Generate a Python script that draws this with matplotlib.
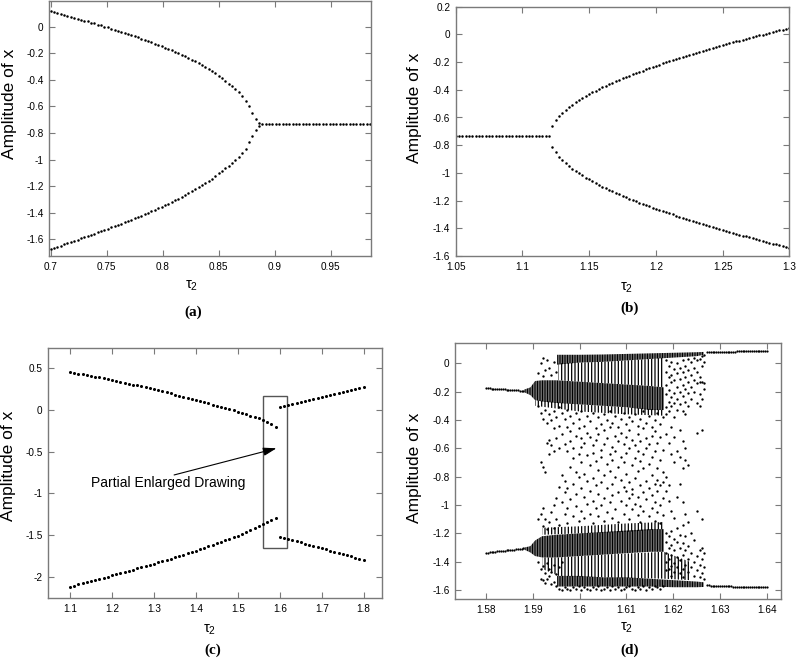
import numpy as np
import matplotlib.pyplot as plt
from matplotlib.patches import Rectangle

plt.rcParams['font.family'] = ['Liberation Sans', 'DejaVu Sans']
plt.rcParams['mathtext.fontset'] = 'custom'
plt.rcParams['mathtext.rm'] = 'Liberation Sans'
plt.rcParams['mathtext.default'] = 'regular'
plt.rcParams['axes.unicode_minus'] = False
plt.rcParams['hatch.linewidth'] = 0.9

W, H = 798, 663
GRAY = '#7a7a7a'

# ---- (a) tau2 = 0.700 .. 0.886 step 0.003, then the fixed point
a_tau0, a_step = 0.700, 0.003
a_upper = [0.116, 0.109, 0.102, 0.095, 0.088, 0.081, 0.074, 0.067, 0.060, 0.053,
           0.046, 0.039, 0.031, 0.024, 0.016, 0.009, 0.001, -0.006, -0.014, -0.022,
           -0.030, -0.038, -0.047, -0.055, -0.064, -0.072, -0.081, -0.090, -0.099, -0.109,
           -0.118, -0.128, -0.138, -0.147, -0.157, -0.168, -0.178, -0.189, -0.200, -0.211,
           -0.223, -0.235, -0.248, -0.261, -0.274, -0.288, -0.303, -0.319, -0.335, -0.352,
           -0.369, -0.388, -0.408, -0.429, -0.450, -0.470, -0.494, -0.521, -0.557, -0.597,
           -0.648, -0.694, -0.722]
a_lower = [-1.675, -1.666, -1.657, -1.648, -1.639, -1.630, -1.621, -1.612, -1.603, -1.594,
           -1.585, -1.576, -1.567, -1.558, -1.549, -1.539, -1.530, -1.521, -1.511, -1.502,
           -1.492, -1.482, -1.472, -1.462, -1.452, -1.443, -1.432, -1.422, -1.411, -1.400,
           -1.389, -1.378, -1.367, -1.356, -1.345, -1.333, -1.321, -1.308, -1.295, -1.282,
           -1.268, -1.254, -1.240, -1.225, -1.210, -1.194, -1.178, -1.161, -1.143, -1.125,
           -1.105, -1.086, -1.066, -1.046, -1.028, -1.005, -0.979, -0.950, -0.918, -0.870,
           -0.822, -0.777, -0.748]
a_fixed_range = (0.889, 0.985)
a_fixed_amp = -0.734

# ---- (b) fixed point for tau2 = 1.05 .. 1.12, branches from 1.1225 step 0.0025
b_fixed_range = (1.05, 1.12)
b_fixed_amp = -0.735
b_tau0, b_step = 1.1225, 0.0025
b_upper = [-0.662, -0.621, -0.591, -0.566, -0.545, -0.525, -0.507, -0.490, -0.475, -0.460,
           -0.445, -0.432, -0.419, -0.406, -0.394, -0.382, -0.371, -0.360, -0.349, -0.338,
           -0.328, -0.318, -0.308, -0.298, -0.289, -0.280, -0.270, -0.261, -0.253, -0.244,
           -0.235, -0.227, -0.219, -0.210, -0.202, -0.194, -0.186, -0.179, -0.171, -0.163,
           -0.156, -0.148, -0.141, -0.134, -0.126, -0.119, -0.112, -0.105, -0.098, -0.091,
           -0.084, -0.078, -0.071, -0.064, -0.058, -0.051, -0.045, -0.038, -0.032, -0.026,
           -0.019, -0.013, -0.007, -0.001, 0.005, 0.011, 0.017, 0.023, 0.029, 0.035,
           0.041, 0.047]
b_lower = [-0.811, -0.852, -0.883, -0.909, -0.931, -0.951, -0.970, -0.987, -1.003, -1.018,
           -1.034, -1.047, -1.060, -1.074, -1.086, -1.099, -1.110, -1.121, -1.133, -1.144,
           -1.154, -1.165, -1.175, -1.185, -1.194, -1.204, -1.214, -1.223, -1.231, -1.241,
           -1.250, -1.258, -1.266, -1.276, -1.284, -1.292, -1.300, -1.308, -1.316, -1.324,
           -1.331, -1.340, -1.347, -1.354, -1.362, -1.369, -1.377, -1.384, -1.391, -1.398,
           -1.406, -1.412, -1.419, -1.426, -1.432, -1.440, -1.446, -1.453, -1.459, -1.465,
           -1.472, -1.479, -1.485, -1.491, -1.497, -1.503, -1.510, -1.516, -1.522, -1.528,
           -1.534, -1.540]

# ---- (c) tau2 = 1.10 .. 1.59 and 1.60 .. 1.80, step 0.01
c_left_tau0, c_right_tau0, c_step = 1.10, 1.60, 0.01
c_left_upper = [0.455, 0.446, 0.437, 0.428, 0.419, 0.409, 0.400, 0.390, 0.380, 0.370,
                0.360, 0.349, 0.338, 0.327, 0.316, 0.305, 0.294, 0.283, 0.272, 0.261,
                0.250, 0.237, 0.224, 0.211, 0.198, 0.185, 0.172, 0.159, 0.146, 0.133,
                0.120, 0.106, 0.092, 0.078, 0.064, 0.050, 0.036, 0.022, 0.008, -0.006,
                -0.020, -0.035, -0.051, -0.067, -0.083, -0.100, -0.122, -0.146, -0.172, -0.205]
c_left_lower = [-2.120, -2.107, -2.093, -2.080, -2.066, -2.053, -2.039, -2.026, -2.012, -1.999,
                -1.985, -1.971, -1.957, -1.943, -1.929, -1.915, -1.901, -1.887, -1.873, -1.859,
                -1.845, -1.830, -1.814, -1.799, -1.783, -1.768, -1.752, -1.737, -1.721, -1.706,
                -1.690, -1.672, -1.654, -1.636, -1.618, -1.600, -1.582, -1.564, -1.546, -1.528,
                -1.510, -1.487, -1.463, -1.439, -1.415, -1.391, -1.367, -1.343, -1.319, -1.295]
c_right_upper = [0.040, 0.052, 0.064, 0.076, 0.088, 0.100, 0.112, 0.124, 0.136, 0.148, 0.160,
                 0.172, 0.184, 0.196, 0.208, 0.220, 0.232, 0.244, 0.256, 0.268, 0.280]
c_right_lower = [-1.520, -1.534, -1.548, -1.562, -1.576, -1.590, -1.604, -1.618, -1.632, -1.646,
                 -1.660, -1.674, -1.688, -1.702, -1.716, -1.730, -1.744, -1.758, -1.772, -1.786,
                 -1.800]
c_box = (1.561, -1.654, 1.618, 0.171)          # tau0, amp0, tau1, amp1
c_arrow_tail, c_arrow_head = (1.348, -0.78), (1.592, -0.46)
c_note_pos = (1.150, -0.877)

# ---- (d) periodic parts (step 0.0004), chaotic bands and scattered iterates
d_left_tau0, d_right_tau0, d_step = 1.5800, 1.6272, 0.0004
d_left_upper = [-0.175, -0.176, -0.177, -0.178, -0.179, -0.180, -0.181, -0.182, -0.183, -0.184,
                -0.185, -0.186, -0.187, -0.188, -0.189, -0.190, -0.191, -0.192, -0.193, -0.195,
                -0.197]
d_left_lower = [-1.336, -1.335, -1.333, -1.332, -1.330, -1.329, -1.327, -1.326, -1.324, -1.323,
                -1.321, -1.320, -1.318, -1.317, -1.315, -1.314, -1.312, -1.311, -1.309, -1.308,
                -1.306]
d_right_upper = [0.076, 0.077, 0.077, 0.078, 0.078, 0.079, 0.079, 0.080, 0.080, 0.081, 0.081,
                 0.082, 0.082, 0.082, 0.083, 0.083, 0.084, 0.084, 0.084, 0.085, 0.085, 0.086,
                 0.086, 0.086, 0.087, 0.087, 0.087, 0.088, 0.088, 0.088, 0.089, 0.089, 0.089]
d_right_lower = [-1.566, -1.567, -1.568, -1.568, -1.569, -1.570, -1.570, -1.571, -1.572, -1.572,
                 -1.573, -1.573, -1.574, -1.574, -1.575, -1.575, -1.576, -1.576, -1.577, -1.577,
                 -1.577, -1.578, -1.578, -1.578, -1.579, -1.579, -1.579, -1.579, -1.580, -1.580,
                 -1.580, -1.580, -1.580]

# dense bands: (tau knots, lower edge, upper edge)
d_dense = [
    ([1.5882, 1.5895, 1.5905, 1.5920, 1.5950, 1.6000, 1.6050, 1.6100, 1.6150, 1.6180],
     [-0.205, -0.225, -0.26, -0.27, -0.28, -0.29, -0.30, -0.31, -0.33, -0.33],
     [-0.185, -0.170, -0.125, -0.12, -0.12, -0.13, -0.14, -0.15, -0.16, -0.17]),
    ([1.5882, 1.5895, 1.5905, 1.5920, 1.5950, 1.6000, 1.6050, 1.6100, 1.6150, 1.6180],
     [-1.315, -1.335, -1.36, -1.37, -1.37, -1.36, -1.35, -1.34, -1.33, -1.33],
     [-1.300, -1.290, -1.25, -1.22, -1.21, -1.20, -1.19, -1.18, -1.17, -1.17]),
    ([1.5952, 1.6000, 1.6050, 1.6100, 1.6150, 1.6200, 1.6250, 1.6265],
     [-0.01, 0.005, 0.01, 0.02, 0.03, 0.040, 0.050, 0.060],
     [0.060, 0.060, 0.062, 0.066, 0.070, 0.074, 0.078, 0.080]),
    ([1.5952, 1.6000, 1.6050, 1.6100, 1.6150, 1.6200, 1.6250, 1.6265],
     [-1.575, -1.575, -1.575, -1.575, -1.575, -1.58, -1.58, -1.578],
     [-1.50, -1.50, -1.51, -1.51, -1.52, -1.53, -1.54, -1.545]),
]
# thinner bands around them
d_medium = [
    ([1.5955, 1.600, 1.605, 1.610, 1.615, 1.618],
     [-0.12, -0.13, -0.14, -0.15, -0.16, -0.17],
     [0.0, 0.005, 0.01, 0.02, 0.03, 0.04]),
    ([1.5905, 1.600, 1.610, 1.618],
     [-0.30, -0.34, -0.36, -0.37],
     [-0.26, -0.29, -0.31, -0.33]),
    ([1.5920, 1.600, 1.610, 1.618],
     [-1.21, -1.20, -1.19, -1.17],
     [-1.16, -1.15, -1.13, -1.12]),
    ([1.5920, 1.5955, 1.605, 1.618, 1.6235],
     [-1.45, -1.50, -1.51, -1.52, -1.53],
     [-1.37, -1.37, -1.35, -1.33, -1.40]),
]
d_scatter_tau = [1.5912, 1.5918, 1.5922, 1.5926, 1.5930, 1.5935, 1.5940, 1.5945, 1.5950, 1.5956,
                 1.5962, 1.5968, 1.5974, 1.5980, 1.5986, 1.5992, 1.5998, 1.6004, 1.6010, 1.6016,
                 1.6022, 1.6028, 1.6034, 1.6040, 1.6046, 1.6052, 1.6058, 1.6064, 1.6070, 1.6076,
                 1.6082, 1.6088, 1.6094, 1.6100, 1.6106, 1.6112, 1.6118, 1.6124, 1.6130, 1.6136,
                 1.6142, 1.6148, 1.6154, 1.6160, 1.6166, 1.6172, 1.6178, 1.6184, 1.6190, 1.6196,
                 1.6202, 1.6208, 1.6214, 1.6220, 1.6226, 1.6232, 1.6238, 1.6244, 1.6250, 1.6256,
                 1.6262, 1.6266]
d_scatter_amp = [
    [-0.07, -0.30, -1.10, -1.40],
    [0.0, -0.35, -0.70, -1.06, -1.45, -1.52],
    [0.04, -0.09, -0.39, -0.73, -1.02, -1.15, -1.43, -1.53],
    [-0.05, -0.33, -0.77, -1.10, -1.48, -1.55],
    [0.02, -0.42, -0.56, -1.17, -1.41, -1.52],
    [-0.03, -0.36, -0.54, -0.64, -1.12, -1.45, -1.50],
    [-0.08, -0.40, -0.58, -1.05, -1.47, -1.56],
    [0.01, -0.34, -0.46, -0.62, -1.00, -1.16, -1.42, -1.54],
    [-0.06, -0.38, -0.53, -0.95, -1.10, -1.49, -1.57],
    [-0.31, -0.44, -0.60, -0.87, -1.14, -1.44, -1.59],
    [-0.35, -0.50, -0.79, -0.98, -1.40, -1.60],
    [-0.39, -0.57, -0.83, -0.91, -1.06, -1.58],
    [-0.33, -0.45, -0.62, -0.88, -1.02, -1.13, -1.59],
    [-0.37, -0.48, -0.55, -0.73, -0.96, -1.60],
    [-0.42, -0.60, -0.67, -0.85, -1.08, -1.58],
    [-0.35, -0.51, -0.77, -0.92, -1.01, -1.59],
    [-0.39, -0.46, -0.64, -0.80, -1.11, -1.57],
    [-0.34, -0.53, -0.59, -0.70, -0.88, -1.04, -1.60],
    [-0.44, -0.56, -0.78, -0.94, -1.09, -1.58],
    [-0.37, -0.49, -0.65, -0.83, -0.99, -1.59],
    [-0.41, -0.52, -0.72, -0.90, -1.06, -1.60],
    [-0.35, -0.58, -0.63, -0.81, -0.97, -1.13, -1.58],
    [-0.46, -0.54, -0.69, -0.86, -1.02, -1.59],
    [-0.38, -0.50, -0.75, -0.92, -1.08, -1.57],
    [-0.43, -0.61, -0.66, -0.84, -1.00, -1.60],
    [-0.36, -0.47, -0.57, -0.79, -0.95, -1.11, -1.59],
    [-0.40, -0.53, -0.71, -0.88, -1.05, -1.58],
    [-0.34, -0.45, -0.64, -0.76, -0.98, -1.60],
    [-0.42, -0.59, -0.68, -0.85, -0.93, -1.09, -1.57],
    [-0.37, -0.51, -0.62, -0.80, -1.03, -1.59],
    [-0.45, -0.55, -0.73, -0.91, -1.12, -1.58],
    [-0.39, -0.49, -0.66, -0.82, -0.97, -1.60],
    [-0.35, -0.57, -0.70, -0.87, -1.06, -1.59],
    [-0.43, -0.52, -0.63, -0.78, -0.90, -1.00, -1.58],
    [-0.38, -0.47, -0.60, -0.84, -0.95, -1.10, -1.57],
    [-0.41, -0.54, -0.72, -0.89, -0.92, -1.03, -1.59],
    [-0.36, -0.58, -0.67, -0.81, -0.99, -1.60],
    [-0.44, -0.50, -0.62, -0.76, -0.94, -1.07, -1.58],
    [-0.39, -0.55, -0.69, -0.86, -1.01, -1.12, -1.59],
    [-0.34, -0.46, -0.64, -0.74, -0.91, -1.04, -1.57],
    [-0.42, -0.53, -0.60, -0.83, -0.96, -1.60],
    [-0.37, -0.57, -0.71, -0.88, -1.08, -1.58],
    [-0.45, -0.51, -0.66, -0.79, -0.93, -1.02, -1.59],
    [-0.40, -0.48, -0.62, -0.85, -0.98, -1.11, -1.57],
    [-0.35, -0.56, -0.74, -0.82, -0.90, -1.05, -1.58],
    [-0.43, -0.52, -0.68, -0.86, -1.00, -1.13, -1.59],
    [-0.38, -0.61, -0.77, -0.84, -0.95, -1.07, -1.57],
    [0.02, -0.06, -0.15, -0.22, -0.31, -0.36, -0.50, -0.80, -0.90, -1.20, -1.26, -1.34, -1.40, -1.46],
    [-0.02, -0.10, -0.19, -0.27, -0.34, -0.56, -0.86, -0.97, -1.22, -1.30, -1.38, -1.45],
    [0.01, -0.08, -0.13, -0.24, -0.30, -0.45, -0.64, -1.04, -1.18, -1.28, -1.35, -1.43, -1.50],
    [-0.04, -0.12, -0.21, -0.28, -0.38, -0.52, -0.70, -1.09, -1.24, -1.32, -1.41, -1.47],
    [0.00, -0.07, -0.17, -0.25, -0.33, -0.62, -0.94, -1.16, -1.26, -1.37, -1.44],
    [-0.03, -0.11, -0.20, -0.29, -0.47, -0.66, -0.85, -1.21, -1.30, -1.39, -1.48],
    [0.02, -0.06, -0.15, -0.23, -0.34, -0.55, -0.74, -0.98, -1.14, -1.27, -1.35, -1.45, -1.51],
    [-0.02, -0.10, -0.18, -0.27, -0.36, -0.60, -0.68, -1.06, -1.22, -1.32, -1.42],
    [0.03, -0.05, -0.13, -0.21, -0.30, -0.72, -1.12, -1.29, -1.38, -1.47],
    [0.01, -0.08, -0.17, -0.25, -1.20, -1.34, -1.44],
    [0.04, -0.03, -0.12, -0.20, -1.25, -1.40, -1.50],
    [0.02, -0.06, -0.14, -0.28, -0.49, -1.04, -1.36, -1.46],
    [0.03, -0.10, -0.13, -0.22, -0.30, -1.32, -1.42, -1.51],
    [0.05, -0.02, -0.13, -0.25, -0.47, -1.10, -1.30, -1.38, -1.48],
    [0.06, 0.01, -0.14, -0.18, -1.34, -1.44, -1.52],
]

fig = plt.figure(figsize=(W / 100, H / 100), dpi=100)


def add_axes(l, t, r, b):
    return fig.add_axes([l / W, 1 - b / H, (r - l) / W, (b - t) / H])


def fmt(v):
    return '%g' % (round(v, 4) + 0.0)


def style(ax, xlim, ylim, xticks, yticks):
    ax.set_xlim(*xlim)
    ax.set_ylim(*ylim)
    ax.set_xticks(xticks)
    ax.set_yticks(yticks)
    ax.set_xticklabels([fmt(v) for v in xticks])
    ax.set_yticklabels([fmt(v) for v in yticks])
    for s in ax.spines.values():
        s.set_color(GRAY)
        s.set_linewidth(1.0)
    ax.tick_params(direction='in', top=True, right=True, length=4, width=0.8,
                   color=GRAY, labelsize=7.2, pad=4)


def labels(ax_y, x_lab, panel):
    fig.text(ax_y[0] / W, 1 - ax_y[1] / H, 'Amplitude of x', rotation=90,
             ha='center', va='center', fontsize=12.5)
    fig.text(x_lab[0] / W, 1 - x_lab[1] / H, 'τ$_2$', ha='center', va='center', fontsize=10.5)
    fig.text(panel[0] / W, 1 - panel[1] / H, panel[2], ha='center', va='center',
             fontsize=11, fontweight='bold', family='Liberation Serif')


def dots(ax, x, y, ms=1.8):
    ax.plot(x, y, linestyle='none', marker='o', ms=ms, mew=0, color='k')


# (a)
ax = add_axes(49, 1, 371, 256)
ta = a_tau0 + a_step * np.arange(len(a_upper))
dots(ax, ta, a_upper)
dots(ax, ta, a_lower)
tf = np.arange(a_fixed_range[0], a_fixed_range[1] + 1e-9, a_step)
dots(ax, tf, np.full(len(tf), a_fixed_amp))
style(ax, (0.6985, 0.986), (-1.726, 0.193),
      [0.7, 0.75, 0.8, 0.85, 0.9, 0.95], np.arange(-1.6, 0.01, 0.2))
labels((10, 104), (192, 286), (193, 312, '(a)'))

# (b)
ax = add_axes(455.7, 6.7, 789.3, 256)
tf = np.arange(b_fixed_range[0], b_fixed_range[1] + 1e-9, b_step)
dots(ax, tf, np.full(len(tf), b_fixed_amp))
tb = b_tau0 + b_step * np.arange(len(b_upper))
dots(ax, tb, b_upper)
dots(ax, tb, b_lower)
style(ax, (1.05, 1.3), (-1.6, 0.2),
      [1.05, 1.1, 1.15, 1.2, 1.25, 1.3], np.arange(-1.6, 0.21, 0.2))
labels((415, 108), (627, 288), (630, 308, '(b)'))

# (c)
ax = add_axes(48.3, 348.3, 381.7, 598.3)
tl = c_left_tau0 + c_step * np.arange(len(c_left_upper))
tr = c_right_tau0 + c_step * np.arange(len(c_right_upper))
for t, v in [(tl, c_left_upper), (tl, c_left_lower), (tr, c_right_upper), (tr, c_right_lower)]:
    dots(ax, t, v, ms=2.2)
ax.add_patch(Rectangle((c_box[0], c_box[1]), c_box[2] - c_box[0], c_box[3] - c_box[1],
                       fill=False, edgecolor='#555555', lw=1.0))
ax.annotate('', xy=c_arrow_head, xytext=c_arrow_tail,
            arrowprops=dict(arrowstyle='-|>,head_length=0.8,head_width=0.25',
                            color='k', lw=0.8, shrinkA=0, shrinkB=0))
ax.text(c_note_pos[0], c_note_pos[1], 'Partial Enlarged Drawing', fontsize=10,
        ha='left', va='center')
style(ax, (1.048, 1.843), (-2.26, 0.74),
      [1.1, 1.2, 1.3, 1.4, 1.5, 1.6, 1.7, 1.8], [-2, -1.5, -1, -0.5, 0, 0.5])
labels((9, 466), (210, 630), (213, 650, '(c)'))

# (d)
ax = add_axes(455, 343, 781, 599)
for t, lo, hi in d_dense:
    ax.fill_between(t, lo, hi, facecolor='none', edgecolor='k', linewidth=0, hatch='|' * 10)
for t, lo, hi in d_medium:
    ax.fill_between(t, lo, hi, facecolor='none', edgecolor='k', linewidth=0, hatch='|' * 5)
sx = [t for t, col in zip(d_scatter_tau, d_scatter_amp) for _ in col]
sy = [v for col in d_scatter_amp for v in col]
dots(ax, sx, sy, ms=1.7)
tl = d_left_tau0 + d_step * np.arange(len(d_left_upper))
tr = d_right_tau0 + d_step * np.arange(len(d_right_upper))
for t, v in [(tl, d_left_upper), (tl, d_left_lower), (tr, d_right_upper), (tr, d_right_lower)]:
    dots(ax, t, v, ms=1.6)
style(ax, (1.5734, 1.643), (-1.663, 0.143),
      [1.58, 1.59, 1.6, 1.61, 1.62, 1.63, 1.64], np.arange(-1.6, 0.01, 0.2))
labels((415, 468), (627, 628), (630, 650, '(d)'))

fig.savefig('out.png', dpi=100)
